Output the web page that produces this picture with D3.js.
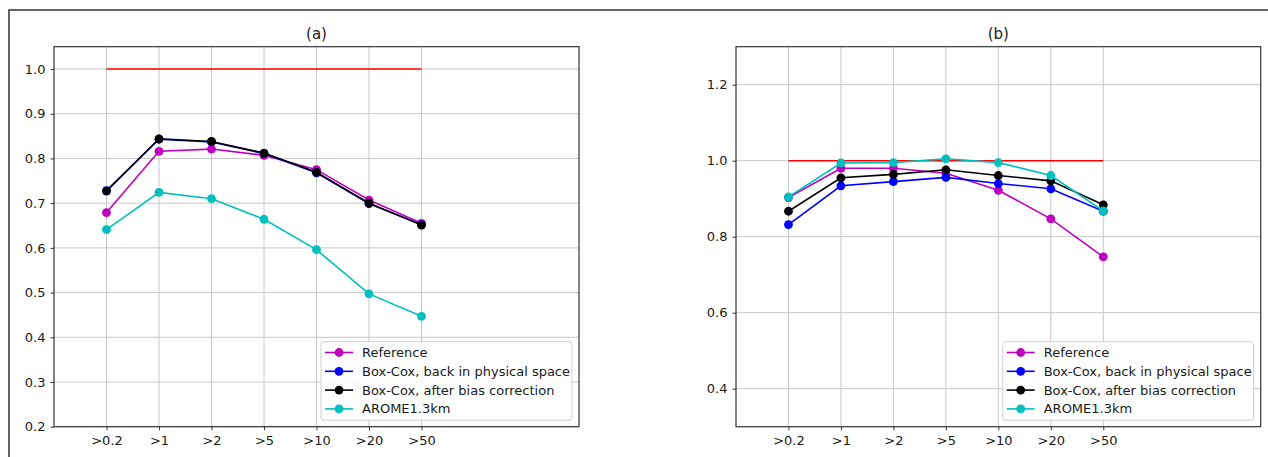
<!DOCTYPE html>
<html>
<head>
<meta charset="utf-8">
<script src="https://cdn.jsdelivr.net/npm/d3@7"></script>
<style>
  html, body { margin: 0; padding: 0; background: #fff; }
  svg { display: block; font-family: "DejaVu Sans", sans-serif; }
</style>
</head>
<body>
<svg id="chart" width="1268" height="457"></svg>
<script>
// ---------------- data ----------------
const categories = [">0.2", ">1", ">2", ">5", ">10", ">20", ">50"];
const seriesNames = ["Reference", "Box-Cox, back in physical space", "Box-Cox, after bias correction", "AROME1.3km"];

const aReference = [0.679, 0.816, 0.821, 0.807, 0.775, 0.707, 0.655];
const aBoxCox    = [0.728, 0.843, 0.837, 0.811, 0.768, 0.699, 0.652];
const aBias      = [0.727, 0.844, 0.838, 0.812, 0.769, 0.700, 0.651];
const aArome     = [0.641, 0.724, 0.710, 0.664, 0.596, 0.497, 0.447];

const bReference = [0.903, 0.980, 0.980, 0.967, 0.922, 0.847, 0.747];
const bBoxCox    = [0.832, 0.934, 0.945, 0.956, 0.940, 0.926, 0.867];
const bBias      = [0.867, 0.955, 0.964, 0.976, 0.961, 0.947, 0.884];
const bArome     = [0.905, 0.994, 0.995, 1.005, 0.995, 0.961, 0.868];

const perfectLine = [1.0, 1.0];

const aTicks = [0.2, 0.3, 0.4, 0.5, 0.6, 0.7, 0.8, 0.9, 1.0];
const bTicks = [0.4, 0.6, 0.8, 1.0, 1.2];

// ---------------- styling ----------------
const colors = ["#bf00bf", "#0000ff", "#000000", "#00bfbf"];
const refColor = "#ff0000";
const textColor = "#1a1a1a";

const svg = d3.select("#chart");

// outer frame (only left/top visible)
svg.append("rect")
  .attr("x", 9).attr("y", 10)
  .attr("width", 1300).attr("height", 500)
  .attr("fill", "none").attr("stroke", "#333").attr("stroke-width", 1.5);

const plotTop = 46.7, plotBottom = 426.7;

const panels = [
  { title: "(a)", x0: 54, x1: 579, yDomain: [0.2, 1.05], ticks: aTicks,
    series: [aReference, aBoxCox, aBias, aArome] },
  { title: "(b)", x0: 736, x1: 1260.7, yDomain: [0.3, 1.3], ticks: bTicks,
    series: [bReference, bBoxCox, bBias, bArome] }
];

panels.forEach(p => {
  const g = svg.append("g");
  const x = d3.scaleLinear().domain([-1, 9]).range([p.x0, p.x1]);
  const y = d3.scaleLinear().domain(p.yDomain).range([plotBottom, plotTop]);
  const idx = d3.range(categories.length);

  // grid
  g.append("g").selectAll("line").data(idx).join("line")
    .attr("x1", d => x(d)).attr("x2", d => x(d))
    .attr("y1", plotTop).attr("y2", plotBottom)
    .attr("stroke", "#c8c8c8").attr("stroke-width", 1);
  g.append("g").selectAll("line").data(p.ticks).join("line")
    .attr("x1", p.x0).attr("x2", p.x1)
    .attr("y1", d => y(d)).attr("y2", d => y(d))
    .attr("stroke", "#c8c8c8").attr("stroke-width", 1);

  // axes
  const xAxis = d3.axisBottom(x).tickValues(idx)
    .tickFormat(i => categories[i]).tickSize(3.5).tickSizeOuter(0).tickPadding(6);
  const yAxis = d3.axisLeft(y).tickValues(p.ticks)
    .tickFormat(d3.format(".1f")).tickSize(3.5).tickSizeOuter(0).tickPadding(5);

  const gx = g.append("g").attr("transform", `translate(0,${plotBottom})`).call(xAxis);
  const gy = g.append("g").attr("transform", `translate(${p.x0},0)`).call(yAxis);
  [gx, gy].forEach(ax => {
    ax.select(".domain").remove();
    ax.selectAll(".tick line").attr("stroke", "#333").attr("stroke-width", 1);
    ax.selectAll(".tick text").attr("fill", textColor).style("font-size", "13px")
      .style("font-family", "DejaVu Sans, sans-serif");
  });

  // spines
  g.append("rect")
    .attr("x", p.x0).attr("y", plotTop)
    .attr("width", p.x1 - p.x0).attr("height", plotBottom - plotTop)
    .attr("fill", "none").attr("stroke", "#333").attr("stroke-width", 1.2);

  // title
  g.append("text")
    .attr("x", (p.x0 + p.x1) / 2).attr("y", 39)
    .attr("text-anchor", "middle")
    .style("font-size", "15px").attr("fill", textColor)
    .text(p.title);

  // perfect-score line
  g.append("path")
    .datum(perfectLine)
    .attr("d", d3.line().x((d, i) => x(i === 0 ? 0 : categories.length - 1)).y(d => y(d)))
    .attr("fill", "none").attr("stroke", refColor).attr("stroke-width", 1.6);

  // series
  const line = d3.line().x((d, i) => x(i)).y(d => y(d));
  p.series.forEach((vals, s) => {
    const sg = g.append("g");
    sg.append("path").datum(vals)
      .attr("d", line)
      .attr("fill", "none").attr("stroke", colors[s]).attr("stroke-width", 1.6);
    sg.selectAll("circle").data(vals).join("circle")
      .attr("cx", (d, i) => x(i)).attr("cy", d => y(d))
      .attr("r", 4.4).attr("fill", colors[s]);
  });

  // legend
  const lw = 251, lh = 78.5;
  const lx = p.x1 - 7 - lw, ly = plotBottom - 6.5 - lh;
  const lg = g.append("g").attr("transform", `translate(${lx},${ly})`);
  lg.append("rect")
    .attr("width", lw).attr("height", lh).attr("rx", 3)
    .attr("fill", "#fff").attr("fill-opacity", 0.85)
    .attr("stroke", "#d0d0d0").attr("stroke-width", 1);
  seriesNames.forEach((name, s) => {
    const cy = 10.8 + s * 18.8;
    lg.append("line").attr("x1", 4).attr("x2", 32).attr("y1", cy).attr("y2", cy)
      .attr("stroke", colors[s]).attr("stroke-width", 1.6);
    lg.append("circle").attr("cx", 18).attr("cy", cy).attr("r", 4.4).attr("fill", colors[s]);
    lg.append("text").attr("x", 41).attr("y", cy + 4.6)
      .style("font-size", "13px").attr("fill", textColor).text(name);
  });
});
</script>
</body>
</html>
